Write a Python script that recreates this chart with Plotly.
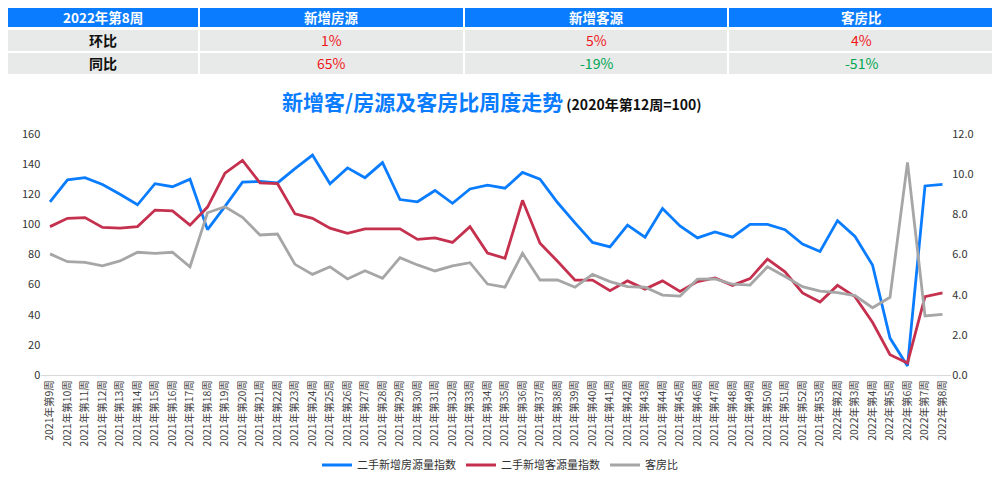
import plotly.graph_objects as go

# 周次
weeks = [f"2021年第{w}周" for w in range(9, 54)] + [f"2022年第{w}周" for w in range(2, 9)]

# 二手新增房源量指数
listing_idx = [115, 129.5, 131, 126.5, 120, 113, 127, 125, 130, 96.5,
               112, 128, 128.5, 127.5, 137, 146, 127, 137.5, 131, 141,
               116.5, 115, 122.5, 114, 123.5, 126, 124, 134.5, 130, 114.5,
               101, 88, 85, 99.5, 91.5, 110.5, 99, 91, 95, 91.5,
               100, 100, 96.5, 87, 82, 102.5, 92, 73, 24.5, 6,
               125.5, 126.5]

# 二手新增客源量指数
buyer_idx = [98.5, 104, 104.5, 98, 97.5, 98.5, 109.5, 109, 99.5, 111.5,
             134, 142.5, 127.5, 127, 107, 104, 97.5, 94, 97, 97,
             97, 90, 91, 88, 98.5, 81, 77.5, 116, 87.5, 75.5,
             63, 63, 56, 62.5, 57, 62.5, 55.5, 62, 64.5, 59.5,
             64, 77, 68.5, 54.5, 48.5, 59.5, 52, 35, 13.5, 8,
             52, 54.5]

# 客房比
ratio = [6.03, 5.64, 5.61, 5.44, 5.68, 6.11, 6.06, 6.11, 5.39, 8.08,
         8.38, 7.85, 6.97, 7.02, 5.51, 5.01, 5.39, 4.78, 5.19, 4.81,
         5.84, 5.48, 5.18, 5.43, 5.59, 4.53, 4.37, 6.06, 4.73, 4.73,
         4.37, 5.01, 4.65, 4.4, 4.37, 3.98, 3.93, 4.77, 4.78, 4.52,
         4.48, 5.39, 4.9, 4.4, 4.18, 4.1, 3.95, 3.35, 3.87, 10.59,
         2.94, 3.02]

# 顶部表格
table_header = ["2022年第8周", "新增房源", "新增客源", "客房比"]
row_names = ["环比", "同比"]
mom = ["1%", "5%", "4%"]
yoy = ["65%", "-19%", "-51%"]

CJK = "Noto Sans CJK SC"
BLUE = "#0A7CFF"
RED = "#C4304E"
GRAY = "#A6A6A6"

# 页面 body 默认有 8px 边距，图从 (8, 8) 开始
OFF = 8
W, H = 1000 - OFF, 479 - OFF


def px(x):
    return (x - OFF) / W


def py(y):
    return 1 - (y - OFF) / H


def pct_color(s):
    return "#00A651" if s.startswith("-") else "#F0161C"


fig = go.Figure()

fig.add_trace(go.Scatter(x=weeks, y=listing_idx, mode="lines", name="二手新增房源量指数",
                         line=dict(color=BLUE, width=2.8)))
fig.add_trace(go.Scatter(x=weeks, y=buyer_idx, mode="lines", name="二手新增客源量指数",
                         line=dict(color=RED, width=2.8)))
fig.add_trace(go.Scatter(x=weeks, y=ratio, mode="lines", name="客房比", yaxis="y2",
                         line=dict(color=GRAY, width=2.8)))

# 表格：用矩形和文字画
col_edges = [(7, 198), (200, 463), (465, 727), (729, 993)]
row_edges = [(8, 27), (30, 51), (53, 74)]
rows = [
    [(f"<b>{h}</b>", "white") for h in table_header],
    [(f"<b>{row_names[0]}</b>", "#111111")] + [(m, pct_color(m)) for m in mom],
    [(f"<b>{row_names[1]}</b>", "#111111")] + [(y, pct_color(y)) for y in yoy],
]
for r, (y0, y1) in enumerate(row_edges):
    fill = BLUE if r == 0 else "#E7EAE8"
    for c, (x0, x1) in enumerate(col_edges):
        fig.add_shape(type="rect", xref="paper", yref="paper",
                      x0=px(x0), x1=px(x1), y0=py(y1), y1=py(y0),
                      fillcolor=fill, line=dict(width=0), layer="below")
        txt, color = rows[r][c]
        fig.add_annotation(x=px((x0 + x1) / 2), y=py((y0 + y1) / 2), xref="paper", yref="paper",
                           text=txt, showarrow=False, xanchor="center", yanchor="middle",
                           font=dict(family=CJK, size=13.5 if r == 0 else 14, color=color))

fig.add_annotation(
    x=px(492), y=py(101), xref="paper", yref="paper", showarrow=False,
    xanchor="center", yanchor="middle",
    text=("<b><span style='color:%s;font-size:21px'>新增客/房源及客房比周度走势</span></b>"
          "<b><span style='color:#111;font-size:14px'> (2020年第12周=100)</span></b>") % BLUE,
    font=dict(family=CJK),
)

fig.update_layout(
    width=W, height=H,
    margin=dict(l=0, r=0, t=0, b=0, autoexpand=False),
    paper_bgcolor="white", plot_bgcolor="white",
    font=dict(family=CJK, color="#333333"),
    showlegend=True,
    legend=dict(orientation="h", x=px(500), xanchor="center", y=py(465), yanchor="middle",
                font=dict(size=11, color="#333333"), itemwidth=30),
    xaxis=dict(domain=[px(41.25), px(951.25)], type="category", range=[-0.5, 51.5],
               tickangle=-90, tickfont=dict(size=10.5, color="#444444"),
               showgrid=False, showline=True, linecolor="#D9D9D9", linewidth=1,
               ticks="", zeroline=False, automargin=False),
    yaxis=dict(domain=[py(375), py(134)], range=[0, 160], dtick=20, showgrid=False,
               zeroline=False, tickfont=dict(size=11, color="#333333"), ticks="",
               automargin=False),
    yaxis2=dict(overlaying="y", side="right", range=[0, 12], dtick=2, tickformat=".1f",
                showgrid=False, zeroline=False, tickfont=dict(size=11, color="#333333"),
                ticks="", anchor="x", automargin=False),
)

fig.write_html("out.html")
